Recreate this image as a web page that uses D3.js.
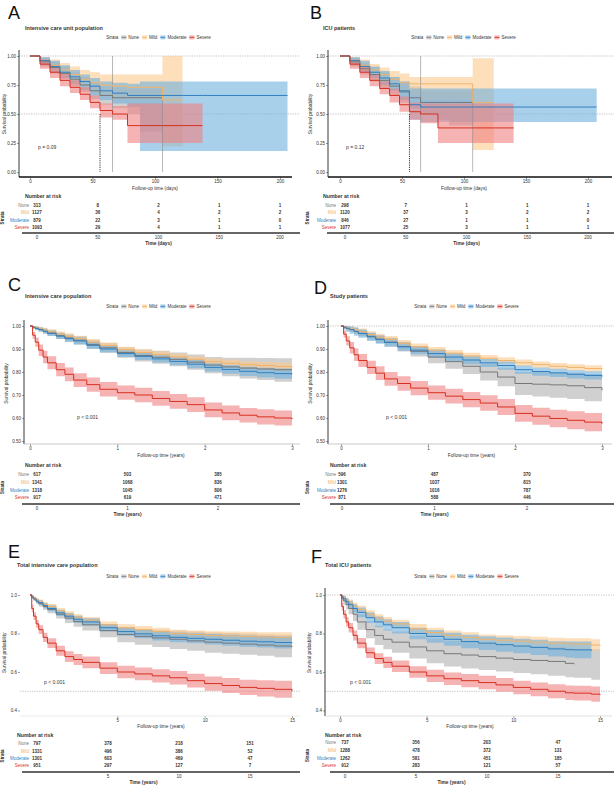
<!DOCTYPE html>
<html>
<head>
<meta charset="utf-8">
<script src="https://cdn.jsdelivr.net/npm/d3@7"></script>
<style>
  body { margin: 0; background: #fff; }
  text { font-family: "Liberation Sans", Arial, sans-serif; fill: #333; }
</style>
</head>
<body>
<script>
// ---------- data ----------
const groupNames = ["None", "Mild", "Moderate", "Severe"];

// A - days
const aTime     = [0, 8, 16, 24, 32, 40, 48, 56, 66, 78, 88, 106, 122, 138, 206];
const aGrey     = [1, .95, .90, .85, .80, .75, .70, .66, .64, .64, .64, .64, null, null, null];
const aGreyLo   = [1, .91, .85, .80, .74, .69, .63, .58, .55, .50, .35, .35, null, null, null];
const aGreyHi   = [1, .99, .95, .91, .86, .82, .77, .74, .73, .72, .72, .72, null, null, null];
const aOrange   = [1, .96, .92, .88, .84, .80, .77, .75, .74, .73, .73, .62, .62, null, null];
const aOrangeLo = [1, .92, .87, .82, .77, .72, .68, .65, .63, .62, .62, .22, .22, null, null];
const aOrangeHi = [1, .99, .97, .94, .91, .88, .86, .84, .84, .84, .84, 1.0, 1.0, null, null];
const aBlue     = [1, .96, .91, .86, .82, .78, .74, .70, .68, .66, .66, .66, .66, .66, .66];
const aBlueLo   = [1, .92, .86, .81, .76, .71, .66, .62, .59, .56, .18, .18, .18, .18, .18];
const aBlueHi   = [1, .99, .96, .92, .88, .84, .81, .78, .77, .76, .78, .78, .78, .78, .78];
const aRed      = [1, .93, .86, .79, .73, .67, .60, .53, .50, .40, .40, .40, .40, .40, null];
const aRedLo    = [1, .89, .81, .74, .68, .62, .55, .47, .45, .25, .25, .25, .25, .25, null];
const aRedHi    = [1, .97, .91, .85, .79, .73, .66, .59, .57, .59, .59, .59, .59, .59, null];
const aMedT     = [56, 66, 106];
const aMedTop   = [.5, 1, .72];
const aRiskTimes = [0, 50, 100, 150, 200];
const aRiskGrey   = [313, 8, 2, 1, 1];
const aRiskOrange = [1127, 36, 4, 2, 2];
const aRiskBlue   = [879, 22, 3, 1, 0];
const aRiskRed    = [1093, 29, 4, 1, 1];

// B - days
const bTime     = [0, 8, 16, 24, 32, 40, 48, 56, 65, 79, 88, 107, 124, 140, 207];
const bGrey     = [1, .95, .89, .84, .79, .74, .69, .64, .60, .60, .60, .60, null, null, null];
const bGreyLo   = [1, .91, .84, .78, .72, .66, .60, .55, .50, .45, .40, .30, null, null, null];
const bGreyHi   = [1, .99, .94, .90, .86, .82, .78, .74, .70, .70, .70, .70, null, null, null];
const bOrange   = [1, .96, .92, .88, .84, .80, .77, .76, .76, .76, .76, .60, .60, null, null];
const bOrangeLo = [1, .92, .87, .83, .78, .74, .70, .66, .62, .62, .62, .19, .19, null, null];
const bOrangeHi = [1, .99, .97, .93, .90, .87, .85, .82, .82, .82, .82, .98, .98, null, null];
const bBlue     = [1, .96, .91, .86, .81, .76, .70, .58, .56, .56, .56, .56, .56, .56, .56];
const bBlueLo   = [1, .92, .86, .81, .75, .70, .62, .45, .43, .43, .43, .43, .43, .43, .43];
const bBlueHi   = [1, .99, .96, .91, .87, .82, .78, .72, .72, .72, .72, .72, .72, .72, .72];
const bRed      = [1, .93, .86, .79, .72, .66, .58, .52, .50, .38, .38, .38, .38, .38, null];
const bRedLo    = [1, .89, .81, .74, .67, .60, .52, .45, .42, .25, .25, .25, .25, .25, null];
const bRedHi    = [1, .97, .91, .84, .78, .72, .65, .60, .59, .59, .59, .59, .59, .59, null];
const bMedT     = [56, 65, 107];
const bMedTop   = [.5, 1, .72];
const bRiskTimes = [0, 50, 100, 150, 200];
const bRiskGrey   = [298, 7, 1, 1, 1];
const bRiskOrange = [1120, 37, 3, 2, 2];
const bRiskBlue   = [846, 27, 1, 1, 0];
const bRiskRed    = [1077, 25, 3, 1, 1];

// C - years
const cTime     = [0, .03, .06, .1, .15, .2, .3, .4, .5, .65, .8, 1, 1.2, 1.4, 1.6, 1.8, 2, 2.2, 2.4, 2.6, 2.8, 3];
const cGrey     = [1, .995, .99, .985, .978, .97, .958, .948, .938, .92, .905, .885, .872, .864, .855, .843, .83, .822, .817, .813, .81, .81];
const cGreyLo   = [1, .99, .983, .976, .967, .958, .944, .932, .92, .90, .884, .862, .846, .836, .825, .81, .795, .782, .772, .765, .758, .752];
const cGreyHi   = [1, 1, .997, .994, .989, .982, .972, .964, .956, .94, .926, .908, .898, .892, .885, .876, .865, .862, .862, .861, .86, .858];
const cOrange   = [1, .996, .992, .988, .982, .975, .964, .955, .945, .93, .915, .897, .885, .876, .866, .855, .845, .838, .832, .828, .824, .82];
const cOrangeLo = [1, .99, .985, .979, .972, .964, .952, .942, .932, .917, .902, .884, .871, .862, .852, .841, .831, .823, .817, .812, .807, .802];
const cOrangeHi = [1, 1, .999, .997, .992, .986, .976, .968, .958, .943, .928, .91, .899, .89, .88, .869, .859, .853, .847, .844, .841, .838];
const cBlue     = [1, .995, .99, .984, .977, .968, .956, .945, .935, .916, .90, .88, .868, .857, .846, .834, .82, .811, .803, .797, .793, .79];
const cBlueLo   = [1, .988, .982, .975, .966, .956, .943, .931, .92, .901, .885, .865, .852, .841, .829, .816, .802, .792, .783, .776, .771, .767];
const cBlueHi   = [1, 1, .998, .993, .988, .98, .969, .959, .95, .931, .915, .895, .884, .873, .863, .852, .838, .83, .823, .818, .815, .813];
const cRed      = [1, .96, .93, .895, .865, .84, .81, .79, .765, .745, .725, .71, .70, .685, .672, .658, .635, .622, .612, .605, .60, .595];
const cRedLo    = [1, .945, .91, .87, .838, .812, .781, .76, .735, .714, .694, .679, .668, .653, .64, .626, .603, .59, .58, .572, .567, .562];
const cRedHi    = [1, .975, .95, .92, .892, .868, .839, .82, .795, .776, .756, .741, .732, .717, .704, .69, .667, .654, .644, .638, .633, .628];
const cRiskTimes = [0, 1, 2];
const cRiskGrey   = [617, 503, 385];
const cRiskOrange = [1341, 1068, 836];
const cRiskBlue   = [1318, 1045, 806];
const cRiskRed    = [917, 619, 471];

// D - years
const dTime     = [0, .03, .06, .1, .15, .2, .3, .4, .5, .65, .8, 1, 1.2, 1.4, 1.6, 1.8, 2, 2.2, 2.4, 2.6, 2.8, 3];
const dGrey     = [1, .995, .99, .985, .977, .968, .955, .943, .93, .91, .89, .865, .845, .825, .80, .778, .75, .747, .744, .74, .732, .72];
const dGreyLo   = [1, .99, .982, .975, .965, .955, .94, .926, .911, .889, .867, .838, .814, .791, .763, .738, .70, .693, .688, .683, .673, .66];
const dGreyHi   = [1, 1, .998, .995, .989, .981, .97, .96, .949, .931, .913, .892, .876, .859, .837, .818, .80, .801, .80, .797, .791, .78];
const dOrange   = [1, .996, .992, .988, .982, .975, .963, .952, .942, .925, .91, .895, .882, .87, .86, .85, .84, .832, .825, .82, .815, .81];
const dOrangeLo = [1, .988, .979, .974, .968, .961, .949, .938, .928, .911, .896, .881, .868, .856, .846, .836, .826, .818, .811, .806, .801, .796];
const dOrangeHi = [1, 1, 1, .998, .995, .989, .977, .966, .956, .939, .924, .909, .896, .884, .874, .864, .854, .846, .839, .834, .829, .824];
const dBlue     = [1, .995, .99, .984, .976, .967, .953, .941, .928, .91, .895, .88, .865, .852, .84, .828, .81, .802, .796, .79, .785, .78];
const dBlueLo   = [1, .985, .975, .966, .958, .949, .935, .923, .91, .892, .877, .862, .847, .834, .822, .81, .792, .784, .778, .772, .767, .762];
const dBlueHi   = [1, 1, 1, .998, .994, .985, .971, .959, .946, .928, .913, .898, .883, .87, .858, .846, .828, .82, .814, .808, .803, .798];
const dRed      = [1, .965, .935, .905, .875, .85, .82, .795, .77, .75, .73, .71, .695, .68, .665, .648, .62, .608, .598, .59, .582, .575];
const dRedLo    = [1, .95, .915, .88, .848, .822, .791, .765, .74, .719, .699, .679, .663, .647, .631, .613, .584, .571, .56, .551, .542, .534];
const dRedHi    = [1, .98, .955, .93, .902, .878, .849, .825, .80, .781, .761, .741, .727, .713, .699, .683, .656, .645, .636, .629, .622, .616];
const dRiskTimes = [0, 1, 2];
const dRiskGrey   = [596, 487, 370];
const dRiskOrange = [1301, 1037, 815];
const dRiskBlue   = [1276, 1016, 787];
const dRiskRed    = [871, 588, 446];

// E - years
const eTime     = [0, .1, .2, .35, .5, .75, 1, 1.5, 2, 2.5, 3, 4, 5, 6, 7, 8, 9, 10, 11, 12, 13, 14, 15];
const eGrey     = [1, .99, .98, .967, .955, .94, .925, .90, .88, .862, .845, .815, .795, .785, .777, .77, .762, .755, .75, .745, .74, .735, .73];
const eGreyLo   = [1, .983, .97, .955, .94, .923, .905, .878, .855, .835, .815, .78, .755, .742, .73, .72, .71, .70, .695, .69, .684, .677, .67];
const eGreyHi   = [1, .997, .99, .979, .97, .957, .945, .922, .905, .889, .875, .85, .83, .824, .82, .815, .81, .805, .803, .80, .796, .793, .79];
const eOrange   = [1, .993, .985, .975, .965, .952, .94, .918, .90, .885, .87, .845, .83, .82, .81, .80, .795, .79, .787, .785, .782, .78, .78];
const eOrangeLo = [1, .985, .976, .965, .954, .94, .927, .904, .885, .87, .854, .828, .812, .801, .79, .78, .774, .768, .764, .761, .757, .754, .752];
const eOrangeHi = [1, 1, .994, .985, .976, .964, .953, .932, .915, .90, .886, .862, .848, .839, .83, .82, .816, .812, .81, .809, .807, .806, .808];
const eBlue     = [1, .99, .98, .968, .96, .945, .93, .907, .89, .874, .86, .83, .81, .798, .788, .78, .775, .77, .765, .76, .757, .753, .75];
const eBlueLo   = [1, .982, .971, .957, .947, .931, .915, .891, .873, .856, .841, .81, .788, .775, .764, .755, .749, .743, .737, .731, .727, .722, .718];
const eBlueHi   = [1, .998, .989, .979, .973, .959, .945, .923, .907, .892, .879, .85, .832, .821, .812, .805, .801, .797, .793, .789, .787, .784, .782];
const eRed      = [1, .93, .89, .85, .82, .78, .75, .71, .68, .665, .65, .62, .60, .59, .58, .57, .555, .54, .53, .52, .515, .51, .50];
const eRedLo    = [1, .91, .87, .83, .797, .756, .725, .684, .652, .636, .62, .589, .568, .557, .546, .535, .519, .503, .491, .48, .473, .466, .455];
const eRedHi    = [1, .95, .91, .87, .843, .804, .775, .736, .708, .694, .68, .651, .632, .623, .614, .605, .591, .577, .569, .56, .557, .554, .545];
const eRiskTimes = [0, 5, 10, 15];
const eRiskGrey   = [797, 378, 218, 151];
const eRiskOrange = [1331, 496, 386, 52];
const eRiskBlue   = [1301, 603, 469, 47];
const eRiskRed    = [951, 297, 127, 7];

// F - years
const fTime     = [0, .1, .2, .35, .5, .75, 1, 1.5, 2, 2.5, 3, 4, 5, 6, 7, 8, 9, 10, 11, 12, 13, 13.5, 14.5, 15];
const fGrey     = [1, .985, .97, .95, .93, .90, .86, .82, .79, .77, .755, .73, .71, .695, .688, .68, .672, .665, .66, .655, .645, .64, null, null];
const fGreyLo   = [1, .97, .95, .925, .90, .865, .82, .775, .74, .718, .70, .67, .645, .628, .618, .61, .602, .595, .588, .58, .573, .57, .56, .56];
const fGreyHi   = [1, 1, .99, .975, .96, .935, .90, .865, .84, .822, .81, .79, .775, .762, .757, .75, .742, .735, .732, .73, .722, .72, .72, .72];
const fOrange   = [1, .992, .984, .972, .96, .943, .925, .90, .88, .865, .85, .825, .805, .79, .78, .77, .765, .76, .755, .75, .746, .745, .74, .735];
const fOrangeLo = [1, .982, .972, .958, .944, .925, .905, .879, .86, .844, .828, .80, .78, .765, .754, .745, .739, .733, .727, .722, .717, .715, .71, .705];
const fOrangeHi = [1, 1, .996, .986, .976, .961, .945, .921, .90, .886, .872, .85, .83, .815, .806, .795, .791, .787, .783, .778, .775, .775, .77, .765];
const fBlue     = [1, .99, .98, .965, .95, .93, .91, .882, .86, .845, .83, .80, .785, .77, .758, .75, .742, .735, .728, .72, .716, .715, .71, null];
const fBlueLo   = [1, .978, .965, .948, .93, .908, .885, .855, .832, .816, .80, .77, .752, .736, .723, .714, .705, .697, .688, .68, .674, .672, .665, null];
const fBlueHi   = [1, 1, .995, .982, .97, .952, .935, .909, .888, .874, .86, .83, .818, .804, .793, .786, .779, .773, .768, .76, .758, .758, .755, null];
const fRed      = [1, .94, .90, .86, .83, .79, .75, .70, .67, .65, .63, .60, .58, .565, .555, .545, .533, .52, .51, .50, .492, .49, .485, .48];
const fRedLo    = [1, .92, .878, .836, .805, .764, .724, .673, .642, .621, .60, .57, .548, .532, .521, .51, .497, .485, .474, .463, .454, .452, .445, .44];
const fRedHi    = [1, .96, .922, .884, .855, .816, .776, .727, .698, .679, .66, .63, .612, .598, .589, .58, .569, .555, .546, .537, .53, .528, .525, .52];
const fRiskTimes = [0, 5, 10, 15];
const fRiskGrey   = [737, 356, 203, 47];
const fRiskOrange = [1288, 478, 372, 131];
const fRiskBlue   = [1262, 581, 451, 185];
const fRiskRed    = [912, 283, 121, 57];

// ---------- drawing ----------
const lineColors = ["#777777", "#f0b36a", "#2f7fc0", "#d7301f"];
const bandColors = ["#b0b0b0", "#fbc98f", "#6fb0de", "#f08080"];

const svg = d3.select("body").append("svg")
    .attr("width", 614)
    .attr("height", 795);

function series(s, lo, hi) { return {s, lo, hi} }

function drawPanel(p) {
    const g = svg.append("g");
    const x = d3.scaleLinear().domain(p.xDomain).range(p.xRange);
    const y = d3.scaleLinear().domain(p.yDomain).range(p.yRange);
    const tx = d3.scaleLinear().domain(d3.extent(p.riskTimes)).range(p.tableRange);

    g.append("text").attr("x", p.letterX).attr("y", p.letterY)
        .style("font-size", "18px").style("fill", "#111").text(p.letter);
    g.append("text").attr("x", p.titleX).attr("y", p.titleY)
        .style("font-size", "5.5px").style("font-weight", "bold").text(p.title);

    // legend, centred afterwards
    const leg = g.append("g");
    let cx = 0;
    const lt = leg.append("text").attr("y", 0).style("font-size", "4.5px").text("Strata");
    cx += lt.node().getComputedTextLength() + 3;
    groupNames.forEach((n, i) => {
        leg.append("rect").attr("x", cx).attr("y", -3.6).attr("width", 5).attr("height", 4)
            .attr("fill", bandColors[i]).attr("fill-opacity", 0.6);
        leg.append("line").attr("x1", cx).attr("x2", cx + 5).attr("y1", -1.6).attr("y2", -1.6)
            .attr("stroke", lineColors[i]).attr("stroke-width", 0.8);
        cx += 7;
        const t = leg.append("text").attr("x", cx).attr("y", 0).style("font-size", "4.5px").text(n);
        cx += t.node().getComputedTextLength() + 3;
    });
    leg.attr("transform", `translate(${p.legendCX - cx / 2},${p.legendY})`);

    // reference lines
    p.hlines.forEach(v => {
        g.append("line")
            .attr("x1", p.axisX).attr("x2", p.hlineRight)
            .attr("y1", y(v)).attr("y2", y(v))
            .attr("stroke", "#999").attr("stroke-width", 0.6)
            .attr("stroke-dasharray", "1.2,1.2");
    });

    // confidence bands
    p.series.forEach((sr, i) => {
        const pts = p.time.map((t, k) => ({t, lo: sr.lo[k], hi: sr.hi[k]}));
        const area = d3.area()
            .defined(d => d.lo != null)
            .curve(d3.curveStepAfter)
            .x(d => x(d.t))
            .y0(d => y(d.lo))
            .y1(d => y(d.hi));
        g.append("path").attr("d", area(pts))
            .attr("fill", bandColors[i]).attr("fill-opacity", 0.6);
    });

    // median / CI guide lines
    if (p.medT) {
        p.medT.forEach((t, k) => {
            g.append("line")
                .attr("x1", x(t)).attr("x2", x(t))
                .attr("y1", y(p.medTop[k])).attr("y2", y(0))
                .attr("stroke", k === 0 ? "#222" : "#888")
                .attr("stroke-width", k === 0 ? 0.9 : 0.6)
                .attr("stroke-dasharray", k === 0 ? "1.2,1" : null);
        });
    }

    // survival curves
    p.series.forEach((sr, i) => {
        const pts = p.time.map((t, k) => ({t, v: sr.s[k]}));
        const line = d3.line()
            .defined(d => d.v != null)
            .curve(d3.curveStepAfter)
            .x(d => x(d.t))
            .y(d => y(d.v));
        g.append("path").attr("d", line(pts))
            .attr("fill", "none").attr("stroke", lineColors[i]).attr("stroke-width", 1);
    });

    // axes
    const yAxis = g.append("g")
        .attr("transform", `translate(${p.axisX},0)`)
        .call(d3.axisLeft(y).tickValues(p.yTicks).tickFormat(d3.format(p.yFmt)).tickSize(2).tickPadding(1))
        .call(a => a.select(".domain").remove());
    yAxis.selectAll("text").style("font-size", "4.5px");
    yAxis.selectAll("line").attr("stroke", "#444").attr("stroke-width", 0.5);
    if (p.yLine) {
        g.append("line").attr("x1", p.axisX).attr("x2", p.axisX)
            .attr("y1", p.yTop).attr("y2", p.axisY)
            .attr("stroke", "#222").attr("stroke-width", 0.9);
    }

    const xAxis = g.append("g")
        .attr("transform", `translate(0,${p.axisY})`)
        .call(d3.axisBottom(x).tickValues(p.xTicks).tickFormat(d3.format("d")).tickSize(2).tickPadding(1))
        .call(a => a.select(".domain").remove());
    xAxis.selectAll("text").style("font-size", "4.5px");
    xAxis.selectAll("line").attr("stroke", "#444").attr("stroke-width", 0.5);
    g.append("line").attr("x1", p.axisX).attr("x2", p.rightX)
        .attr("y1", p.axisY).attr("y2", p.axisY)
        .attr("stroke", p.xLineColor).attr("stroke-width", p.xLineWidth);

    g.append("text")
        .attr("x", (p.xRange[0] + p.xRange[1]) / 2).attr("y", p.xTitleY)
        .attr("text-anchor", "middle").style("font-size", "4.8px")
        .text(p.xTitle);
    g.append("text")
        .attr("transform", `translate(${p.yTitleX},${(p.yRange[0] + p.yRange[1]) / 2}) rotate(-90)`)
        .attr("text-anchor", "middle").style("font-size", "4.8px")
        .text("Survival probability");

    g.append("text").attr("x", p.pX).attr("y", p.pY)
        .style("font-size", "5px").text(p.pText);

    // number at risk table
    g.append("text").attr("x", p.titleX).attr("y", p.tableTitleY)
        .style("font-size", "5.2px").style("font-weight", "bold").text("Number at risk");
    p.risk.forEach((row, i) => {
        g.append("text").attr("x", p.rowLabelX).attr("y", p.rowYs[i])
            .attr("text-anchor", "end").style("font-size", "4.5px")
            .style("fill", lineColors[i]).text(groupNames[i]);
        g.selectAll(null)
            .data(row)
            .join("text")
            .attr("x", (d, k) => tx(p.riskTimes[k]))
            .attr("y", p.rowYs[i])
            .attr("text-anchor", "middle")
            .style("font-size", "4.5px")
            .style("font-weight", "bold")
            .text(d => d);
    });
    g.append("text")
        .attr("transform", `translate(${p.strataX},${(p.rowYs[0] + p.rowYs[3]) / 2}) rotate(-90)`)
        .attr("text-anchor", "middle").style("font-size", "4.5px").style("font-weight", "bold")
        .text("Strata");
    g.append("line").attr("x1", p.tableLine[0]).attr("x2", p.tableLine[1])
        .attr("y1", p.tableLineY).attr("y2", p.tableLineY)
        .attr("stroke", "#333").attr("stroke-width", 1.4);
    g.selectAll(null)
        .data(p.riskTicks)
        .join("text")
        .attr("x", d => tx(d))
        .attr("y", p.tableLineY + 5.5)
        .attr("text-anchor", "middle")
        .style("font-size", "4.5px")
        .text(d => d);
    g.append("text")
        .attr("x", (p.tableRange[0] + p.tableRange[1]) / 2).attr("y", p.tableLineY + 12)
        .attr("text-anchor", "middle").style("font-size", "4.8px").style("font-weight", "bold")
        .text(p.tableXTitle);
}

drawPanel({
    letter: "A", letterX: 8, letterY: 19, title: "Intensive care unit population", titleX: 25, titleY: 30,
    legendCX: 160, legendY: 39,
    xDomain: [0, 200], xRange: [30, 280], xTicks: [0, 50, 100, 150, 200],
    yDomain: [0, 1], yRange: [172, 56], yTicks: [0, .25, .5, .75, 1], yFmt: ".2f",
    axisX: 19, axisY: 177, yTop: 50, rightX: 292, yLine: true, xLineColor: "#111", xLineWidth: 1.6,
    hlines: [1, .5], hlineRight: 300,
    xTitle: "Follow-up time (days)", xTitleY: 190, yTitleX: 6,
    pText: "p = 0.09", pX: 38, pY: 149,
    time: aTime,
    series: [series(aGrey, aGreyLo, aGreyHi), series(aOrange, aOrangeLo, aOrangeHi),
             series(aBlue, aBlueLo, aBlueHi), series(aRed, aRedLo, aRedHi)],
    medT: aMedT, medTop: aMedTop,
    riskTimes: aRiskTimes, riskTicks: aRiskTimes, tableRange: [37, 280],
    risk: [aRiskGrey, aRiskOrange, aRiskBlue, aRiskRed],
    tableTitleY: 198, rowYs: [207, 214, 222, 229], rowLabelX: 29, strataX: 4,
    tableLine: [22, 300], tableLineY: 233, tableXTitle: "Time (days)"
});

drawPanel({
    letter: "B", letterX: 310, letterY: 19, title: "ICU patients", titleX: 323, titleY: 30,
    legendCX: 465, legendY: 39,
    xDomain: [0, 200], xRange: [340, 588], xTicks: [0, 50, 100, 150, 200],
    yDomain: [0, 1], yRange: [172, 56], yTicks: [0, .25, .5, .75, 1], yFmt: ".2f",
    axisX: 328, axisY: 177, yTop: 50, rightX: 612, yLine: true, xLineColor: "#111", xLineWidth: 1.6,
    hlines: [1, .5], hlineRight: 614,
    xTitle: "Follow-up time (days)", xTitleY: 190, yTitleX: 312,
    pText: "p = 0.12", pX: 346, pY: 149,
    time: bTime,
    series: [series(bGrey, bGreyLo, bGreyHi), series(bOrange, bOrangeLo, bOrangeHi),
             series(bBlue, bBlueLo, bBlueHi), series(bRed, bRedLo, bRedHi)],
    medT: bMedT, medTop: bMedTop,
    riskTimes: bRiskTimes, riskTicks: bRiskTimes, tableRange: [345, 588],
    risk: [bRiskGrey, bRiskOrange, bRiskBlue, bRiskRed],
    tableTitleY: 198, rowYs: [207, 214, 222, 229], rowLabelX: 336, strataX: 309,
    tableLine: [327, 614], tableLineY: 233, tableXTitle: "Time (days)"
});

drawPanel({
    letter: "C", letterX: 8, letterY: 291, title: "Intensive care population", titleX: 25, titleY: 298,
    legendCX: 160, legendY: 308,
    xDomain: [0, 3], xRange: [30, 292], xTicks: [0, 1, 2, 3],
    yDomain: [.5, 1], yRange: [441, 326], yTicks: [.5, .6, .7, .8, .9, 1], yFmt: ".2f",
    axisX: 24, axisY: 444, yTop: 320, rightX: 300, yLine: true, xLineColor: "#bbb", xLineWidth: 0.8,
    hlines: [], hlineRight: 300,
    xTitle: "Follow-up time (years)", xTitleY: 457, yTitleX: 8,
    pText: "p < 0.001", pX: 77, pY: 419,
    time: cTime,
    series: [series(cGrey, cGreyLo, cGreyHi), series(cOrange, cOrangeLo, cOrangeHi),
             series(cBlue, cBlueLo, cBlueHi), series(cRed, cRedLo, cRedHi)],
    riskTimes: cRiskTimes, riskTicks: cRiskTimes, tableRange: [37, 218],
    risk: [cRiskGrey, cRiskOrange, cRiskBlue, cRiskRed],
    tableTitleY: 467, rowYs: [476, 484, 492, 499], rowLabelX: 29, strataX: 4,
    tableLine: [22, 300], tableLineY: 504, tableXTitle: "Time (years)"
});

drawPanel({
    letter: "D", letterX: 314, letterY: 294, title: "Study patients", titleX: 330, titleY: 298,
    legendCX: 468, legendY: 308,
    xDomain: [0, 3], xRange: [341, 602], xTicks: [0, 1, 2, 3],
    yDomain: [.5, 1], yRange: [441, 326], yTicks: [.5, .6, .7, .8, .9, 1], yFmt: ".2f",
    axisX: 328, axisY: 444, yTop: 320, rightX: 612, yLine: true, xLineColor: "#bbb", xLineWidth: 0.8,
    hlines: [1], hlineRight: 614,
    xTitle: "Follow-up time (years)", xTitleY: 457, yTitleX: 312,
    pText: "p < 0.001", pX: 386, pY: 419,
    time: dTime,
    series: [series(dGrey, dGreyLo, dGreyHi), series(dOrange, dOrangeLo, dOrangeHi),
             series(dBlue, dBlueLo, dBlueHi), series(dRed, dRedLo, dRedHi)],
    riskTimes: dRiskTimes, riskTicks: dRiskTimes, tableRange: [342, 527],
    risk: [dRiskGrey, dRiskOrange, dRiskBlue, dRiskRed],
    tableTitleY: 467, rowYs: [476, 484, 492, 499], rowLabelX: 336, strataX: 309,
    tableLine: [330, 614], tableLineY: 504, tableXTitle: "Time (years)"
});

drawPanel({
    letter: "E", letterX: 8, letterY: 558, title: "Total intensive care population", titleX: 17, titleY: 567,
    legendCX: 160, legendY: 578,
    xDomain: [0, 15], xRange: [30, 292], xTicks: [5, 10, 15],
    yDomain: [.4, 1], yRange: [710.5, 595], yTicks: [.4, .6, .8, 1], yFmt: ".1f",
    axisX: 20, axisY: 716, yTop: 590, rightX: 300, yLine: false, xLineColor: "#ddd", xLineWidth: 0.6,
    hlines: [.5], hlineRight: 300,
    xTitle: "Follow-up time (years)", xTitleY: 728, yTitleX: 6,
    pText: "p < 0.001", pX: 44, pY: 684,
    time: eTime,
    series: [series(eGrey, eGreyLo, eGreyHi), series(eOrange, eOrangeLo, eOrangeHi),
             series(eBlue, eBlueLo, eBlueHi), series(eRed, eRedLo, eRedHi)],
    riskTimes: eRiskTimes, riskTicks: [5, 10, 15], tableRange: [37, 250],
    risk: [eRiskGrey, eRiskOrange, eRiskBlue, eRiskRed],
    tableTitleY: 737, rowYs: [745, 753, 760, 767], rowLabelX: 29, strataX: 4,
    tableLine: [22, 300], tableLineY: 772, tableXTitle: "Time (years)"
});

drawPanel({
    letter: "F", letterX: 311, letterY: 563, title: "Total ICU patients", titleX: 325, titleY: 567,
    legendCX: 468, legendY: 578,
    xDomain: [0, 15], xRange: [340, 600], xTicks: [0, 5, 10, 15],
    yDomain: [.4, 1], yRange: [710.5, 595], yTicks: [.4, .6, .8, 1], yFmt: ".1f",
    axisX: 325, axisY: 716, yTop: 588, rightX: 612, yLine: true, xLineColor: "#ccc", xLineWidth: 0.6,
    hlines: [1, .5], hlineRight: 614,
    xTitle: "Follow-up time (years)", xTitleY: 728, yTitleX: 311,
    pText: "p < 0.001", pX: 350, pY: 684,
    time: fTime,
    series: [series(fGrey, fGreyLo, fGreyHi), series(fOrange, fOrangeLo, fOrangeHi),
             series(fBlue, fBlueLo, fBlueHi), series(fRed, fRedLo, fRedHi)],
    riskTimes: fRiskTimes, riskTicks: fRiskTimes, tableRange: [345, 558],
    risk: [fRiskGrey, fRiskOrange, fRiskBlue, fRiskRed],
    tableTitleY: 737, rowYs: [744, 752, 760, 767], rowLabelX: 336, strataX: 309,
    tableLine: [330, 614], tableLineY: 772, tableXTitle: "Time (years)"
});
</script>
</body>
</html>
